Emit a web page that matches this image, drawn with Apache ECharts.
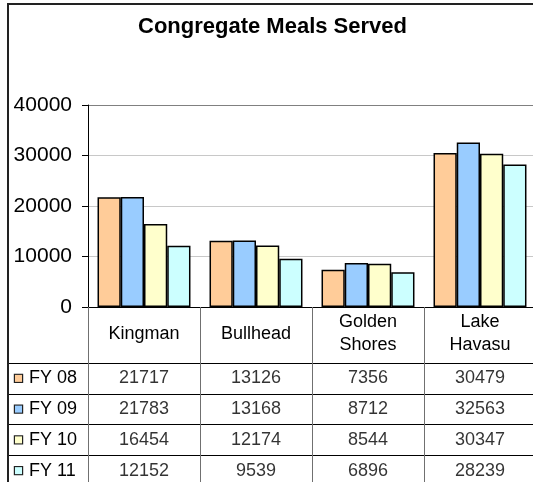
<!DOCTYPE html>
<html>
<head>
<meta charset="utf-8">
<script src="https://cdn.jsdelivr.net/npm/echarts@6/dist/echarts.min.js"></script>
<style>
  html, body { margin: 0; padding: 0; background: #fff; overflow: hidden; }
  #chart { width: 545px; height: 500px; }
</style>
</head>
<body>
<div id="chart"></div>
<script>
const cities = ['Kingman', 'Bullhead', 'Golden Shores', 'Lake Havasu']
const seriesNames = ['FY 08', 'FY 09', 'FY 10', 'FY 11']
const fy08 = [21717, 13126, 7356, 30479]
const fy09 = [21783, 13168, 8712, 32563]
const fy10 = [16454, 12174, 8544, 30347]
const fy11 = [12152, 9539, 6896, 28239]
const colors = ['#FFCC99', '#99CCFF', '#FFFFCC', '#CCFFFF']
const font = 'Liberation Sans, Arial, sans-serif'

const values = [fy08, fy09, fy10, fy11]

// table cells: one point per (city, row)
const cells = []
values.forEach((vals, r) => {
  vals.forEach((v, c) => cells.push([cities[c], seriesNames[r], v]))
})

const rich = { t: { fontSize: 18, fontFamily: font, color: '#000', padding: [0, 0, 0, 7] } }
colors.forEach((c, i) => {
  rich['sq' + i] = { width: 7, height: 7, backgroundColor: c, borderColor: '#222', borderWidth: 1.2, verticalAlign: 'middle' }
})

const chart = echarts.init(document.getElementById('chart'), null, { renderer: 'canvas' })
chart.setOption({
  animation: false,
  backgroundColor: '#fff',
  title: {
    text: 'Congregate Meals Served',
    left: 'center',
    top: 11,
    textStyle: { fontSize: 22, fontWeight: 'bold', fontFamily: font, color: '#000' }
  },
  graphic: [{
    type: 'rect',
    shape: { x: 8, y: 4, width: 529, height: 520 },
    style: { fill: 'none', stroke: '#222', lineWidth: 2 },
    silent: true
  }],
  grid: [
    { left: 88, top: 105, width: 448, height: 202 },
    { left: 88, top: 363, width: 448, height: 123 }
  ],
  xAxis: [{
    gridIndex: 0,
    type: 'category',
    data: cities,
    axisLine: { lineStyle: { color: '#000', width: 1 } },
    axisTick: { show: true, interval: 0, length: 180, lineStyle: { color: '#707070' } },
    axisLabel: {
      interval: 0, margin: 27, verticalAlign: 'middle', lineHeight: 23,
      fontSize: 18, fontFamily: font, color: '#000',
      formatter: v => v.replace(' ', '\n')
    },
    splitLine: { show: false }
  }, {
    gridIndex: 1,
    type: 'category',
    data: cities,
    axisLine: { show: false },
    axisTick: { show: false },
    axisLabel: { show: false },
    splitLine: { show: false }
  }],
  yAxis: [{
    gridIndex: 0,
    type: 'value',
    min: 0,
    max: 40000,
    interval: 10000,
    axisLine: { show: true, lineStyle: { color: '#000' } },
    axisTick: { show: true, length: 6, lineStyle: { color: '#000' } },
    axisLabel: { fontSize: 21, fontFamily: font, color: '#000', margin: 16, formatter: v => String(v) },
    splitLine: { lineStyle: { color: ['#c8c8c8', '#c8c8c8', '#c8c8c8', '#c8c8c8', '#808080'], width: 1 } }
  }, {
    gridIndex: 1,
    type: 'category',
    data: seriesNames,
    inverse: true,
    axisLine: { show: false },
    axisTick: { show: true, length: 79, lineStyle: { color: '#000' } },
    axisLabel: {
      align: 'left', margin: 73, rich: rich,
      formatter: (v, i) => '{sq' + i + '|}{t|' + v + '}'
    },
    splitLine: { show: true, lineStyle: { color: '#000' } }
  }],
  series: seriesNames.map((name, i) => ({
    name: name,
    type: 'bar',
    xAxisIndex: 0,
    yAxisIndex: 0,
    data: values[i],
    barGap: '0%',
    barCategoryGap: '17%',
    itemStyle: { color: colors[i], borderColor: '#000', borderWidth: 1.5 }
  })).concat([{
    type: 'scatter',
    xAxisIndex: 1,
    yAxisIndex: 1,
    data: cells,
    symbolSize: 1,
    itemStyle: { color: 'rgba(0,0,0,0)' },
    silent: true,
    label: {
      show: true, position: 'inside',
      fontSize: 18, fontFamily: font, color: '#000',
      formatter: p => String(p.value[2])
    }
  }])
})
</script>
</body>
</html>
